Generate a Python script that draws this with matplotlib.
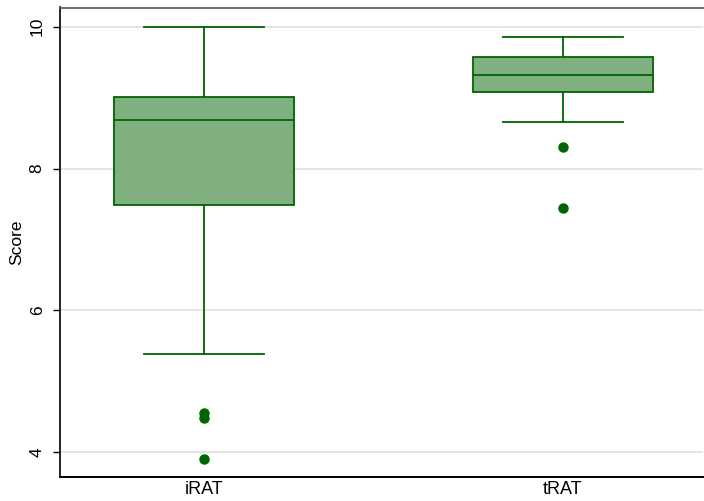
import matplotlib
matplotlib.use("Agg")
import matplotlib.pyplot as plt

plt.rcParams['font.family'] = ['Liberation Sans', 'DejaVu Sans']

categories = ["iRAT", "tRAT"]
whisker_low = [5.38, 8.65]
q1 = [7.49, 9.08]
median = [8.69, 9.32]
q3 = [9.01, 9.57]
whisker_high = [10.0, 9.855]
outliers = [[4.56, 4.49, 3.90], [8.30, 7.44]]

stats = []
for i, c in enumerate(categories):
    stats.append(dict(label=c, whislo=whisker_low[i], q1=q1[i], med=median[i],
                      q3=q3[i], whishi=whisker_high[i], fliers=outliers[i]))

fig = plt.figure(figsize=(7.04, 5.01), dpi=100)
ax = fig.add_axes([60/704, 24/501, 643/704, 469.5/501])

dark = "#006400"
fill = "#80AF80"
ax.bxp(stats, positions=[1, 2], widths=0.5, patch_artist=True,
       boxprops=dict(facecolor=fill, edgecolor=dark, linewidth=1.3),
       medianprops=dict(color=dark, linewidth=1.3),
       whiskerprops=dict(color=dark, linewidth=1.3),
       capprops=dict(color=dark, linewidth=1.3),
       capwidths=0.334,
       flierprops=dict(marker='o', markerfacecolor=dark, markeredgecolor=dark, markersize=6.5),
       zorder=3)

ax.set_xlim(0.599, 2.39)
ax.set_ylim(3.652, 10.27)
ax.set_yticks([4, 6, 8, 10])
ax.set_yticklabels(["4", "6", "8", "10"], rotation=90, va='center', fontsize=12.5)
ax.set_xticks([1, 2])
ax.set_xticklabels(categories, fontsize=13)
ax.tick_params(axis='x', length=0, pad=3)
ax.tick_params(axis='y', length=5, width=1, pad=6)
ax.yaxis.grid(True, color="#E0E0E0", linewidth=1.2, zorder=0)
ax.set_axisbelow(True)
ax.set_ylabel("Score", fontsize=12.5, labelpad=4)

ax.spines['left'].set_color('black')
ax.spines['bottom'].set_color('black')
ax.spines['left'].set_linewidth(1.2)
ax.spines['bottom'].set_linewidth(1.4)
ax.spines['top'].set_color('#555555')
ax.spines['top'].set_linewidth(1.2)
ax.spines['right'].set_visible(False)

fig.savefig("out.png", dpi=100)
